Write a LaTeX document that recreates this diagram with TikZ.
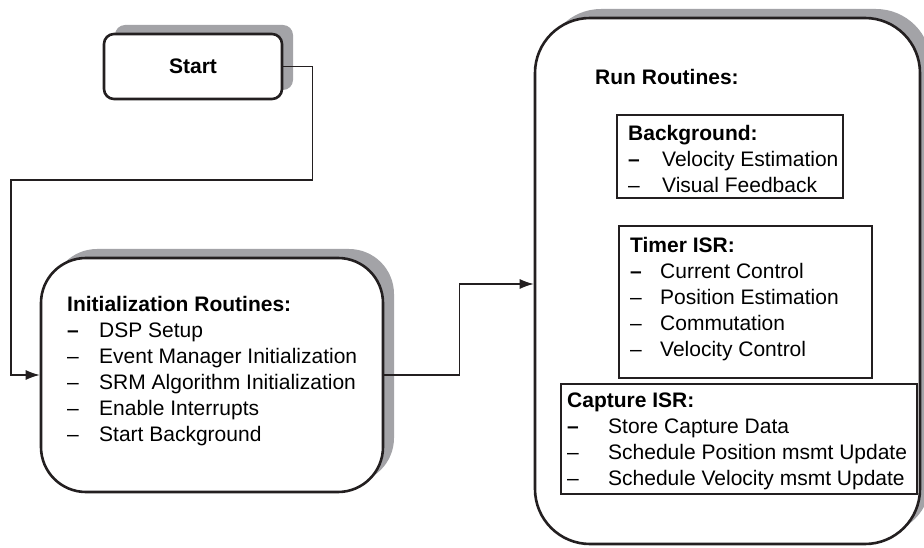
\documentclass[tikz,border=0pt]{standalone}
\usepackage{fontspec}
\setmainfont{Liberation Sans}
\usepackage{array}
\usetikzlibrary{arrows.meta, shadows}
\definecolor{shade}{RGB}{163,163,167}
\definecolor{ink}{RGB}{35,31,32}
\tikzset{>={Latex[length=14pt,width=10pt]}, font=\fontsize{21}{26}\selectfont}
\tikzset{routine/.style={shape=rectangle, draw=ink, line width=2.6pt, fill=white,
    drop shadow={shadow xshift=11pt, shadow yshift=9pt, fill=shade, opacity=1}},
  isrbox/.style={shape=rectangle, draw=ink, line width=1.1pt, fill=white},
  wire/.style={draw=ink, line width=1.3pt},
  blurb/.style={anchor=base west, inner sep=0pt}}
% title line, then dash + item rows
\newcommand{\steplist}[3]{\begin{tabular}[t]{@{}p{#1}@{}l@{}}
    \multicolumn{2}{@{}l@{}}{\textbf{#2}}\\#3\end{tabular}}

\begin{document}
\begin{tikzpicture}[x=1pt, y=-1pt]
  \useasboundingbox (0,0) rectangle (924,548);
  \node[routine, rounded corners=10pt, minimum width=178pt, minimum height=65pt]
    (start) at (193,66.5) {\textbf{Start}};
  \node[routine, rounded corners=45pt, minimum width=342pt, minimum height=234pt]
    (init) at (212,375) {};
  \node[routine, rounded corners=55pt, minimum width=385pt, minimum height=526pt]
    (run) at (727.5,281) {};

  \node[blurb] (initlist) at (67,311.5) {\steplist{32pt}{Initialization Routines:}{%
      \textbf{--}&DSP Setup\\--&Event Manager Initialization\\
      --&SRM Algorithm Initialization\\--&Enable Interrupts\\--&Start Background}};

  \node[blurb] (runtitle) at (595,84.5) {\textbf{Run Routines:}};

  \node[isrbox, minimum width=226pt, minimum height=83pt] (bg) at (730,156.5) {};
  \node[blurb] (bglist) at (628,140.5) {\steplist{34pt}{Background:}{%
      \textbf{--}&Velocity Estimation\\--&Visual Feedback}};

  \node[isrbox, minimum width=253pt, minimum height=152pt] (timer) at (745.5,302) {};
  \node[blurb] (timerlist) at (630,252.5) {\steplist{30pt}{Timer ISR:}{%
      \textbf{--}&Current Control\\--&Position Estimation\\
      --&Commutation\\--&Velocity Control}};

  \node[isrbox, minimum width=356pt, minimum height=110pt] (capture) at (739,439) {};
  \node[blurb] (capturelist) at (567,407.5) {\steplist{41pt}{Capture ISR:}{%
      \textbf{--}&Store Capture Data\\--&Schedule Position msmt Update\\
      --&Schedule Velocity msmt Update}};

  %% connectors
  \coordinate (loopcorner) at (11,180);
  \draw[wire, ->] (start.east) -- ++(29,0) |- (loopcorner) |- (init.west);
  \draw[wire, ->] (init.east) -- ++(75,0) |- ([yshift=-3pt]run.west);
\end{tikzpicture}
\end{document}
